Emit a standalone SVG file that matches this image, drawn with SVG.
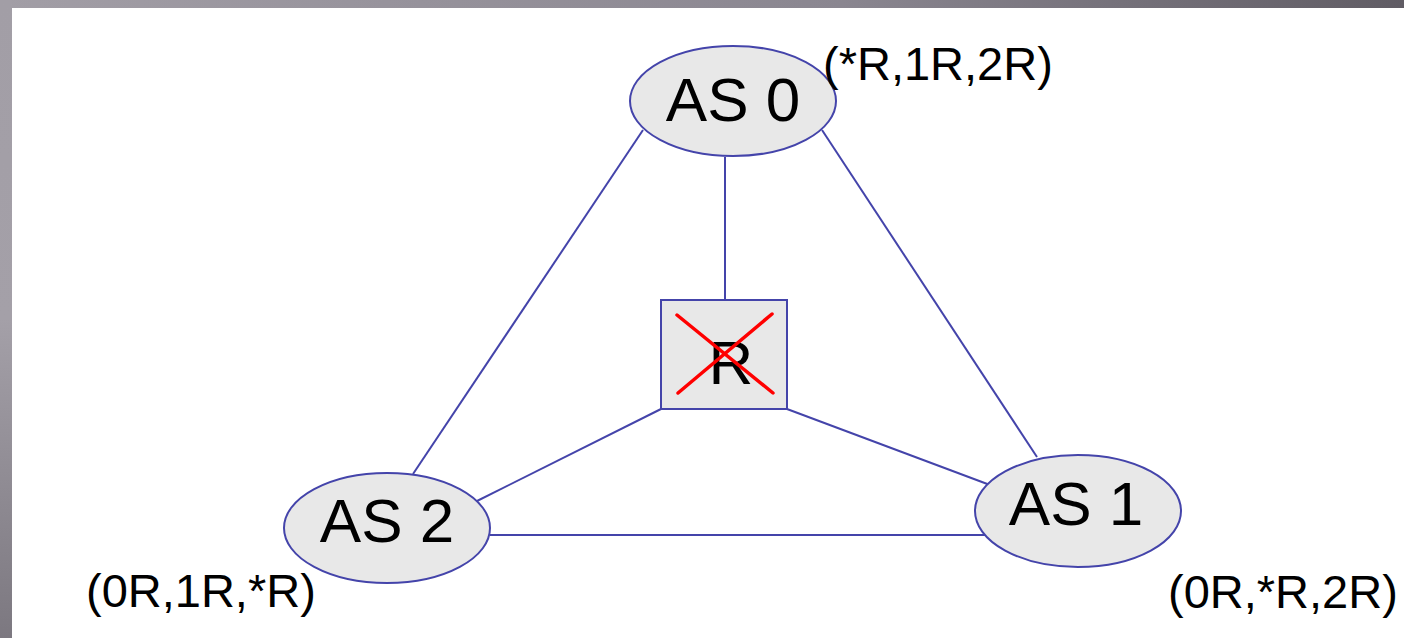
<svg xmlns="http://www.w3.org/2000/svg" width="1404" height="638" viewBox="0 0 1404 638">
  <defs>
    <linearGradient id="topBar" x1="0" y1="0" x2="1" y2="0">
      <stop offset="0" stop-color="#a29ea6"/>
      <stop offset="0.6" stop-color="#8a8690"/>
      <stop offset="1" stop-color="#605c64"/>
    </linearGradient>
    <linearGradient id="leftBar" x1="0" y1="0" x2="0" y2="1">
      <stop offset="0" stop-color="#a29ea6"/>
      <stop offset="0.5" stop-color="#a4a0a8"/>
      <stop offset="1" stop-color="#7c7880"/>
    </linearGradient>
    <style>
      .link { stroke: #4444aa; stroke-width: 2; fill: none; }
      .as { fill: #e8e8e8; stroke: #4444aa; stroke-width: 2; }
      .name { font-family: "Liberation Sans", Arial, sans-serif; font-size: 62px; fill: #000; text-anchor: middle; }
      .tbl { font-family: "Liberation Sans", Arial, sans-serif; font-size: 47px; fill: #000; }
      .cross { stroke: #ff0000; stroke-width: 3.5; stroke-linecap: round; }
    </style>
  </defs>

  <!-- page frame -->
  <rect x="0" y="0" width="1404" height="638" fill="#ffffff"/>
  <rect x="0" y="0" width="1404" height="8" fill="url(#topBar)"/>
  <rect x="0" y="0" width="12" height="638" fill="url(#leftBar)"/>

  <!-- links -->
  <g id="connectors">
    <line class="link" x1="643" y1="130" x2="413" y2="474"/>
    <line class="link" x1="822" y1="130" x2="1037" y2="457"/>
    <line class="link" x1="725" y1="157" x2="725" y2="300"/>
    <line class="link" x1="661" y1="409" x2="475" y2="502"/>
    <line class="link" x1="787" y1="409" x2="990" y2="485"/>
    <line class="link" x1="490" y1="535" x2="990" y2="535"/>
  </g>

  <g id="as0">
    <ellipse class="as" cx="733" cy="101" rx="103" ry="55"/>
    <text class="name" x="733" y="121">AS 0</text>
  </g>
  <text id="table0" class="tbl" x="823" y="80">(*R,1R,2R)</text>

  <g id="as2">
    <ellipse class="as" cx="387" cy="528" rx="103" ry="55"/>
    <text class="name" x="387" y="542">AS 2</text>
  </g>
  <text id="table2" class="tbl" x="86" y="607">(0R,1R,*R)</text>

  <g id="as1">
    <ellipse class="as" cx="1078" cy="511" rx="103" ry="56"/>
    <text class="name" x="1076" y="525">AS 1</text>
  </g>
  <text id="table1" class="tbl" x="1168" y="608">(0R,*R,2R)</text>

  <g id="router">
    <rect class="as" x="661" y="300" width="126" height="109"/>
    <text class="name" x="731" y="384">R</text>
    <line class="cross" x1="677" y1="315" x2="773" y2="393"/>
    <line class="cross" x1="678" y1="393" x2="772" y2="314"/>
  </g>
</svg>
